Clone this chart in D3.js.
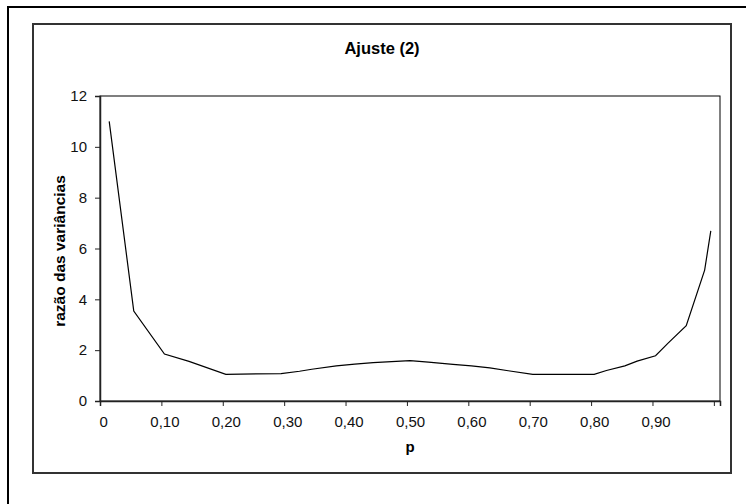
<!DOCTYPE html>
<html>
<head>
<meta charset="utf-8">
<script src="https://cdn.jsdelivr.net/npm/d3@7/dist/d3.min.js"></script>
<style>
  html, body { margin: 0; padding: 0; background: #fff; }
  svg { display: block; font-family: "Liberation Sans", Arial, sans-serif; }
</style>
</head>
<body>
<svg id="chart" width="746" height="504"></svg>
<script>
// p values (Excel category centres) and the matching variance ratios
const pValues = [0.01, 0.05, 0.10, 0.14, 0.20, 0.29, 0.32, 0.34, 0.38, 0.41, 0.44, 0.47, 0.50,
  0.53, 0.57, 0.60, 0.63, 0.66, 0.70, 0.80, 0.82, 0.85, 0.87, 0.90, 0.92, 0.95, 0.98, 0.99];
const ratios = [11.0, 3.54, 1.85, 1.56, 1.05, 1.08, 1.17, 1.25, 1.38, 1.45, 1.51, 1.55, 1.59,
  1.53, 1.44, 1.38, 1.30, 1.19, 1.05, 1.05, 1.20, 1.38, 1.57, 1.78, 2.27, 2.96, 5.15, 6.69];
const xLabels = [0, 0.1, 0.2, 0.3, 0.4, 0.5, 0.6, 0.7, 0.8, 0.9];
const xTickMarks = [0, 0.1, 0.2, 0.3, 0.4, 0.5, 0.6, 0.7, 0.8, 0.9, 1.0];
const yTicks = [0, 2, 4, 6, 8, 10, 12];

const svg = d3.select('#chart');
const L = 100, R = 720, T = 96, B = 401;

// category axis: 101 categories 0..1.00, each label centred in its slot
const x = d3.scaleLinear().domain([-0.005, 1.005]).range([L, R]);
const y = d3.scaleLinear().domain([0, 12]).range([B, T]);
const fmt = (v) => v === 0 ? '0' : v.toFixed(2).replace('.', ',');

// frames
svg.append('rect').attr('x', 8).attr('y', 7).attr('width', 780).attr('height', 540)
  .attr('fill', 'none').attr('stroke', '#000').attr('stroke-width', 2);
svg.append('rect').attr('x', 33).attr('y', 24).attr('width', 698).attr('height', 449)
  .attr('fill', '#fff').attr('stroke', '#333').attr('stroke-width', 2);

// plot frame (top/right thin)
svg.append('rect').attr('x', L).attr('y', T).attr('width', R - L).attr('height', B - T)
  .attr('fill', '#fff').attr('stroke', '#000').attr('stroke-width', 1);

// y axis
const gy = svg.append('g').attr('transform', `translate(${L},0)`)
  .call(d3.axisLeft(y).tickValues(yTicks).tickSize(5).tickPadding(8).tickFormat((d) => d));
gy.select('.domain').attr('stroke', '#222').attr('stroke-width', 1.5);
gy.selectAll('.tick line').attr('stroke', '#222');
gy.selectAll('text').attr('font-size', 15).attr('fill', '#111')
  .attr('font-family', '"Liberation Sans", Arial, sans-serif');

// x axis tick marks between categories
const gx = svg.append('g').attr('transform', `translate(0,${B})`)
  .call(d3.axisBottom(x).tickValues(xTickMarks.map((v) => v - 0.005)).tickSize(5).tickFormat(''));
gx.select('.domain').attr('stroke', '#222').attr('stroke-width', 1.5);
gx.selectAll('.tick line').attr('stroke', '#222');

// x labels at category centres
const gxl = svg.append('g').attr('transform', `translate(0,${B})`)
  .call(d3.axisBottom(x).tickValues(xLabels).tickSize(0).tickPadding(15).tickFormat(fmt));
gxl.select('.domain').remove();
gxl.selectAll('text').attr('font-size', 15).attr('fill', '#111')
  .attr('font-family', '"Liberation Sans", Arial, sans-serif');

// the curve
const pts = pValues.map((p, i) => [p, ratios[i]]);
svg.append('path').datum(pts)
  .attr('fill', 'none').attr('stroke', '#000').attr('stroke-width', 1.2)
  .attr('d', d3.line().x((d) => x(d[0])).y((d) => y(d[1])));

// titles
svg.append('text').attr('x', 382).attr('y', 54).attr('text-anchor', 'middle')
  .attr('font-size', 16.5).attr('font-weight', 'bold').text('Ajuste (2)');
svg.append('text').attr('transform', 'translate(65,251) rotate(-90)').attr('text-anchor', 'middle')
  .attr('font-size', 15.5).attr('font-weight', 'bold').text('razão das variâncias');
svg.append('text').attr('x', 410).attr('y', 452).attr('text-anchor', 'middle')
  .attr('font-size', 15).attr('font-weight', 'bold').text('p');
</script>
</body>
</html>
